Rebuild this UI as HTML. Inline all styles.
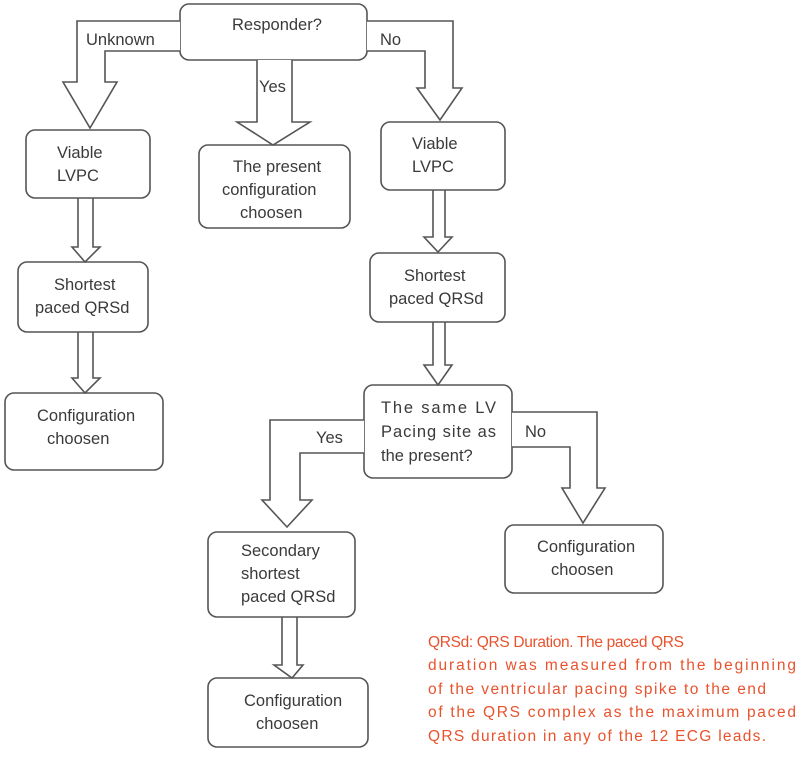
<!DOCTYPE html>
<html><head><meta charset="utf-8"><style>
html,body{margin:0;padding:0;background:#fff;}
svg{display:block;}
text{font-family:"Liberation Sans","DejaVu Sans",sans-serif;font-size:16.5px;fill:#3a3a3a;}
.r{fill:#e8532e;font-size:15.5px;}
</style></head><body>
<svg width="800" height="757" viewBox="0 0 800 757" xmlns="http://www.w3.org/2000/svg">
<g fill="none" stroke="#555" stroke-width="1.6" stroke-linejoin="miter">
<!-- boxes -->
<rect x="180" y="4" width="187" height="56" rx="9"/>
<rect x="26" y="130" width="124" height="68" rx="9"/>
<rect x="199" y="145" width="151" height="83" rx="9"/>
<rect x="381" y="122" width="124" height="68" rx="9"/>
<rect x="18" y="262" width="130" height="70" rx="9"/>
<rect x="370" y="253" width="135" height="69" rx="9"/>
<rect x="5" y="393" width="158" height="77" rx="9"/>
<rect x="364" y="385" width="148" height="93" rx="9"/>
<rect x="505" y="525" width="158" height="68" rx="9"/>
<rect x="208" y="532" width="147" height="85" rx="9"/>
<rect x="208" y="678" width="160" height="69" rx="9"/>
<!-- Unknown arrow -->
<path d="M180 21 H77 V82 H63 L90 128 L117 82 H105 V51 H180" fill="#fff"/>
<!-- No arrow -->
<path d="M367 21 H453 V88 H462 L440 120 L417 88 H425 V51 H367" fill="#fff"/>
<!-- Yes arrow -->
<path d="M257 60 V122 H237 L273 145 L310 122 H292 V60" fill="#fff"/>
<!-- left column arrows -->
<path d="M78 198 V247 H72 L85 262 L100 247 H93 V198"/>
<path d="M78 332 V378 H72 L85 393 L100 378 H93 V332"/>
<!-- right column arrows -->
<path d="M433 190 V237 H424 L438 252 L452 237 H445 V190"/>
<path d="M433 322 V365 H424 L438 385 L452 365 H445 V322"/>
<!-- same LV yes -->
<path d="M364 420 H270 V500 H262 L287 527 L312 500 H300 V453 H364" fill="#fff"/>
<!-- same LV no -->
<path d="M512 412 H597 V488 H605 L583 523 L562 488 H570 V447 H512" fill="#fff"/>
<!-- secondary to config -->
<path d="M282 617 V665 H274 L292 678 L303 665 H297 V617"/>
</g>
<text x="232" y="30">Responder?</text>
<text x="86" y="45">Unknown</text>
<text x="380" y="45">No</text>
<text x="259" y="92">Yes</text>
<text x="57" y="158">Viable</text>
<text x="57" y="181">LVPC</text>
<text x="233" y="172">The present</text>
<text x="222" y="195">configuration</text>
<text x="240" y="218">choosen</text>
<text x="412" y="149">Viable</text>
<text x="412" y="172">LVPC</text>
<text x="54" y="290">Shortest</text>
<text x="35" y="313">paced QRSd</text>
<text x="404" y="281">Shortest</text>
<text x="389" y="304">paced QRSd</text>
<text x="37" y="421">Configuration</text>
<text x="47" y="444">choosen</text>
<text x="381" y="413" textLength="115">The same LV</text>
<text x="381" y="437" textLength="115">Pacing site as</text>
<text x="381" y="461">the present?</text>
<text x="316" y="443">Yes</text>
<text x="525" y="437">No</text>
<text x="537" y="552">Configuration</text>
<text x="551" y="575">choosen</text>
<text x="241" y="556">Secondary</text>
<text x="241" y="579">shortest</text>
<text x="241" y="602">paced QRSd</text>
<text x="244" y="706">Configuration</text>
<text x="256" y="729">choosen</text>
<text class="r" x="428" y="647" textLength="256">QRSd: QRS Duration. The paced QRS</text>
<text class="r" x="428" y="670" textLength="368">duration was measured from the beginning</text>
<text class="r" x="428" y="694" textLength="338">of the ventricular pacing spike to the end</text>
<text class="r" x="428" y="717" textLength="368">of the QRS complex as the maximum paced</text>
<text class="r" x="428" y="741" textLength="338">QRS duration in any of the 12 ECG leads.</text>
</svg>
</body></html>
